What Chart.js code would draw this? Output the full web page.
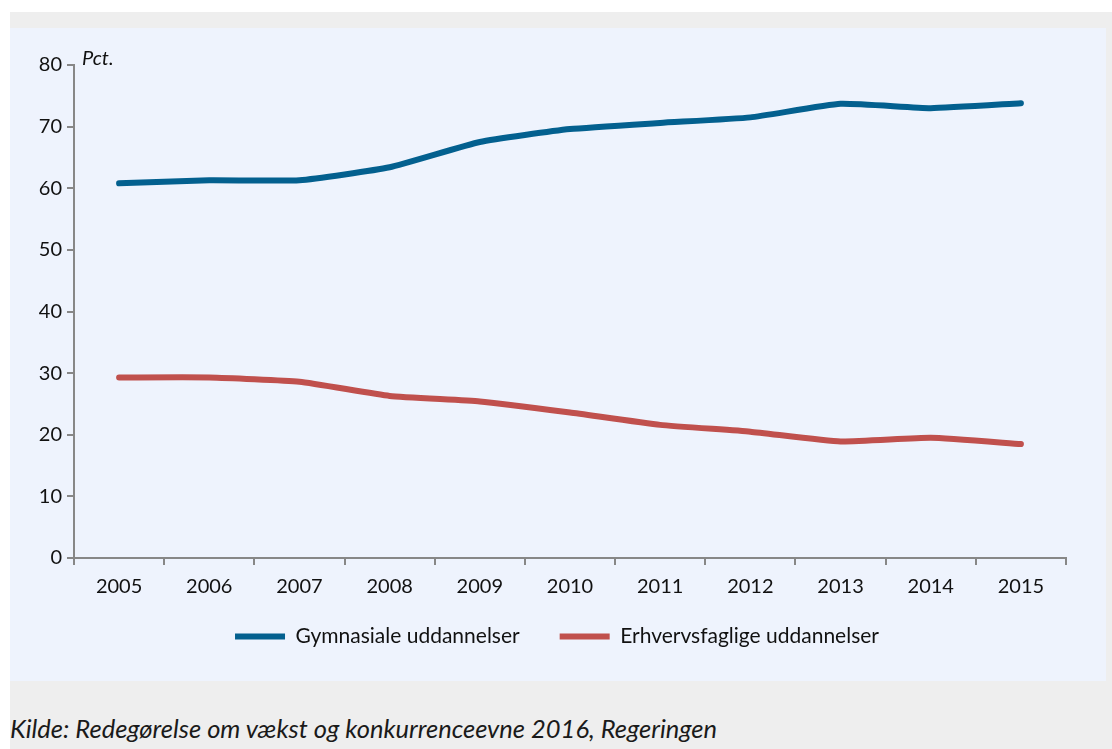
<!DOCTYPE html>
<html lang="da">
<head>
<meta charset="utf-8">
<script src="https://cdn.jsdelivr.net/npm/chart.js@4.4.1/dist/chart.umd.min.js"></script>
<style>
  html, body { margin: 0; padding: 0; background: #ffffff; }
  body { width: 1112px; height: 749px; position: relative; overflow: hidden; font-family: Lato, sans-serif; }
  #outer { position: absolute; left: 10px; top: 12px; width: 1102px; height: 737px; background: #eeeeee; }
  #panel { position: absolute; left: 10px; top: 28px; width: 1096px; height: 653px; background: #eef3fd; }
  #caption { position: absolute; left: 10px; top: 713px; font-style: italic; font-size: 25.5px; color: #1a1a1a; white-space: nowrap; }
</style>
</head>
<body>
<div id="outer"></div>
<div id="panel"><canvas id="chart" width="1096" height="653"></canvas></div>
<div id="caption">Kilde: Redegørelse om vækst og konkurrenceevne 2016, Regeringen</div>
<script>
// --- Data ---
const years = ['2005', '2006', '2007', '2008', '2009', '2010', '2011', '2012', '2013', '2014', '2015'];
const gymnasiale = [60.8, 61.3, 61.3, 63.4, 67.5, 69.6, 70.6, 71.5, 73.7, 73.0, 73.8];
const erhvervsfaglige = [29.3, 29.3, 28.6, 26.3, 25.4, 23.6, 21.6, 20.5, 18.9, 19.5, 18.5];
const seriesNames = ['Gymnasiale uddannelser', 'Erhvervsfaglige uddannelser'];
const yUnit = 'Pct.';

const axisGray = '#878787';
const textColor = '#111111';

// "Pct." label near the top of the y axis
const unitLabel = {
  id: 'unitLabel',
  afterDraw(chart) {
    const { ctx, chartArea } = chart;
    ctx.save();
    ctx.font = 'italic 20px Lato';
    ctx.fillStyle = textColor;
    ctx.textBaseline = 'bottom';
    ctx.fillText(yUnit, chartArea.left + 8, chartArea.top + 4);
    ctx.restore();
  }
};

// axes are packed tight so the legend sits high; widen their label clip boxes again
const looseAxes = {
  id: 'looseAxes',
  afterLayout(chart) {
    chart.scales.x.bottom = chart.scales.x.top + 50;
    chart.scales.y.left = 0;
  }
};

const lineOpts = { borderWidth: 6, pointRadius: 0, tension: 0.15, borderCapStyle: 'round', borderJoinStyle: 'round', fill: false };

new Chart(document.getElementById('chart'), {
  type: 'line',
  data: {
    labels: years,
    datasets: [
      { label: seriesNames[0], data: gymnasiale, borderColor: '#03608f', backgroundColor: '#03608f', ...lineOpts },
      { label: seriesNames[1], data: erhvervsfaglige, borderColor: '#c0504d', backgroundColor: '#c0504d', ...lineOpts }
    ]
  },
  options: {
    responsive: false,
    animation: false,
    layout: { padding: { top: 37, right: 40, bottom: 24, left: 38 } },
    plugins: {
      tooltip: { enabled: false },
      legend: {
        position: 'bottom',
        labels: {
          font: { family: 'Lato', size: 21 },
          color: textColor,
          boxWidth: 50,
          boxHeight: 6,
          padding: 40,
          generateLabels(chart) {
            return chart.data.datasets.map((ds, i) => ({
              text: ds.label, fillStyle: ds.borderColor, strokeStyle: ds.borderColor,
              lineWidth: 0, hidden: false, datasetIndex: i, fontColor: textColor
            }));
          }
        }
      }
    },
    scales: {
      x: {
        offset: true,
        grid: { offset: true, drawOnChartArea: false, color: axisGray, lineWidth: 2, tickLength: 7 },
        border: { color: axisGray, width: 2 },
        ticks: { font: { family: 'Lato', size: 20 }, color: textColor, padding: 10, maxRotation: 0 },
        afterFit(scale) { scale.height = 28; }
      },
      y: {
        min: 0, max: 80,
        grid: { drawOnChartArea: false, color: axisGray, lineWidth: 2, tickLength: 7 },
        border: { color: axisGray, width: 2 },
        ticks: { stepSize: 10, font: { family: 'Lato', size: 20 }, color: textColor, padding: 5 },
        afterFit(scale) { scale.width = 26; }
      }
    }
  },
  plugins: [unitLabel, looseAxes]
});
</script>
</body>
</html>
